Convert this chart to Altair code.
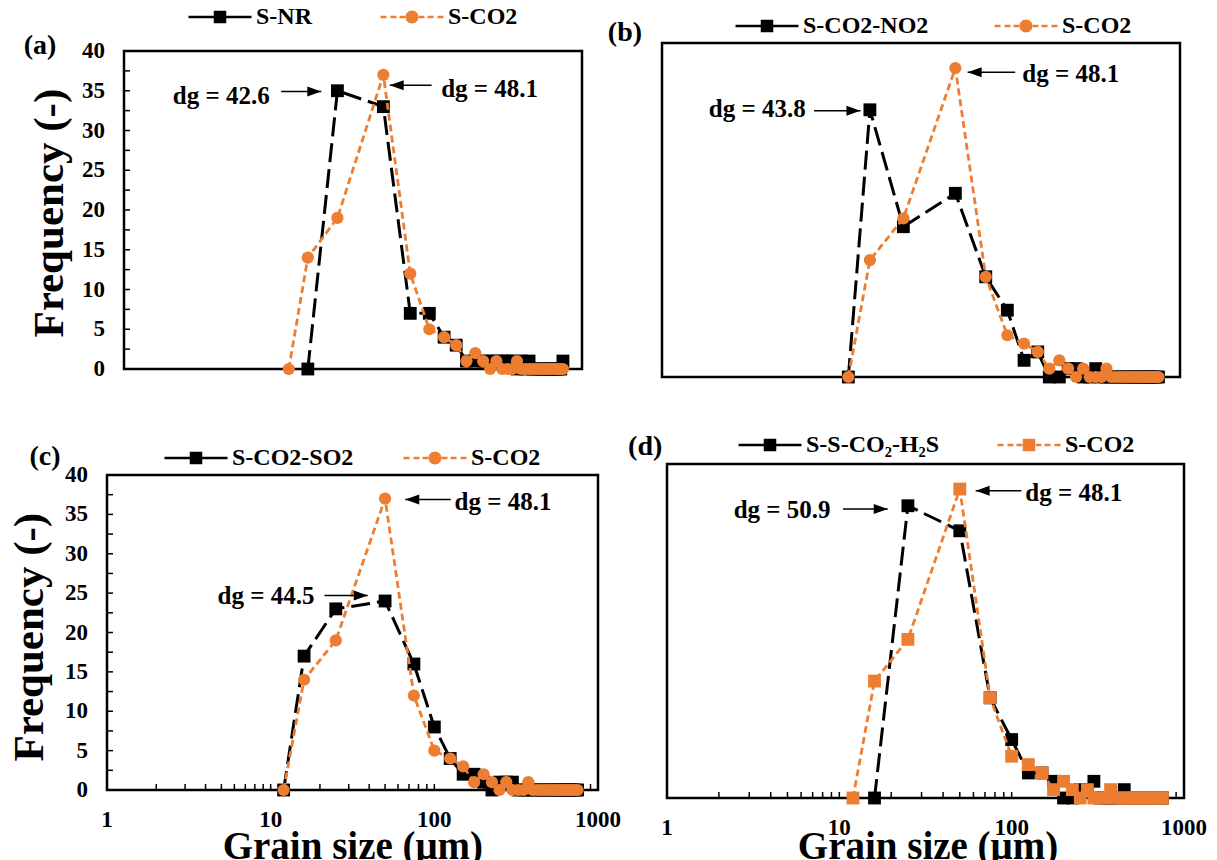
import altair as alt
import pandas as pd

FONT = "Liberation Serif"
BLACK = "#000000"
ORANGE = "#ED7D31"

# ---------------- data ----------------
grain_size = [12, 16, 25, 50, 75, 100, 125, 150, 175, 200, 225, 250, 275, 300,
              325, 350, 375, 400, 425, 450, 475, 500, 525, 550, 575, 600, 625,
              650, 675, 700, 725, 750]
s_co2 = [0, 14, 19, 37, 12, 5, 4, 3, 1, 2, 1, 0, 1, 0, 0, 0, 1,
         0, 0, 0, 0, 0, 0, 0, 0, 0, 0, 0, 0, 0, 0, 0]
s_nr = [None, 0, 35, 33, 7, 7, 4, 3, 1, 1, 1, 1, 1, 1, 1, 1, 0,
        1, 0, 1, 0, 0, 0, 0, 0, 0, 0, 0, 0, 0, 0, 1]
s_co2_no2 = [0, 32, 18, 22, 12, 8, 2, 3, 0, 0, 1, 1, 0, 0, 1, 0, 0,
             0, 0, 0, 0, 0, 0, 0, 0, 0, 0, 0, 0, 0, 0, 0]
s_co2_so2 = [0, 17, 23, 24, 16, 8, 4, 2, 2, 1, 0, 1, 1, 1, 0, 0, 0,
             0, 0, 0, 0, 0, 0, 0, 0, 0, 0, 0, 0, 0, 0, 0]
s_co2_h2s = [None, 0, 35, 32, 12, 7, 3, 3, 2, 0, 0, 1, 1, 2, 0, 0, 0,
             0, 0, 1, 0, 0, 0, 0, 0, 0, 0, 0, 0, 0, 0, 0]

x_domain = [1, 1000]
y_domain = [0, 40]
y_label_values = [0, 5, 10, 15, 20, 25, 30, 35, 40]
y_minor_ticks = [2.5, 5, 7.5, 10, 12.5, 15, 17.5, 20, 22.5, 25, 27.5, 30, 32.5, 35, 37.5]
x_label_values = [1, 10, 100, 1000]
x_minor_ticks = [2, 3, 4, 5, 6, 7, 8, 9, 10, 20, 30, 40, 50, 60, 70, 80, 90,
                 100, 200, 300, 400, 500, 600, 700, 800, 900]

panel_letters = ["(a)", "(b)", "(c)", "(d)"]
main_names = ["S-NR", "S-CO2-NO2", "S-CO2-SO2", "S-S-CO\u2082-H\u2082S"]
ref_name = "S-CO2"
main_series = [s_nr, s_co2_no2, s_co2_so2, s_co2_h2s]
y_title = "Frequency (-)"
x_title = "Grain size (\u03bcm)"

# annotations (data coordinates)
ann_text = [["dg = 42.6", "dg = 48.1"], ["dg = 43.8", "dg = 48.1"],
            ["dg = 44.5", "dg = 48.1"], ["dg = 50.9", "dg = 48.1"]]
ann_text_x = [[9.0, 119.5], [6.8, 122], [18.5, 133], [8.9, 120]]
ann_text_y = [[34.3, 35.2], [32.1, 36.3], [24.6, 36.6], [34.5, 36.5]]
ann_tail_x = [[10.7, 103.5], [7.6, 111], [21.3, 126], [10.5, 114]]
ann_tip_x = [[19.6, 55], [14.1, 58.9], [39.2, 66.4], [19.1, 61.8]]
ann_arrow_y = [[34.9, 35.7], [31.9, 36.5], [24.7, 36.9], [34.6, 36.8]]
letter_x = [0.282, 0.61, 0.418, 0.747]
letter_y = [40.6, 41.2, 42.3, 42.0]
ytitle_x = [0.327, None, 0.339, None]
ytitle_y = [19.6, None, 19.4, None]
xtitle_x = [None, None, 31.8, 32.7]
xtitle_y = [None, None, -8.7, -7.3]

# ---------------- layout / style ----------------
frames = [(124, 582, 51, 369), (662, 1180, 43, 377), (107, 598, 475, 790), (667, 1184, 464, 798)]
has_y_labels = [True, False, True, False]
has_x_labels = [False, False, True, True]
has_y_ticks = [True, False, True, False]
has_x_ticks = [False, False, True, True]
ref_marker = ["circle", "circle", "circle", "square"]
legend_pos = [(181, 5), (728, 14), (157, 446), (731, 433)]
legend_colpad = [60, 58, 42, 50]
CANVAS_W, CANVAS_H = 1217, 860

GLYPH_SOLID_SQUARE = "M-6.3,-0.25H6.3V0.25H-6.3Z M-1.25,-1.25H1.25V1.25H-1.25Z"
DASHES = ("M-6.3,-0.25H-5.1V0.25H-6.3Z M-4.3,-0.25H-3.1V0.25H-4.3Z "
          "M-2.5,-0.25H-1.35V0.25H-2.5Z M1.35,-0.25H2.5V0.25H1.35Z "
          "M3.1,-0.25H4.3V0.25H3.1Z M5.1,-0.25H6.3V0.25H5.1Z ")
GLYPH_DASH_CIRCLE = DASHES + "M1.3,0A1.3,1.3 0 1,1 -1.3,0A1.3,1.3 0 1,1 1.3,0Z"
GLYPH_DASH_SQUARE = DASHES + "M-1.25,-1.25H1.25V1.25H-1.25Z"
ARROW_RIGHT = "M0,0L-1.4,-0.5L-1.4,0.5Z"
ARROW_LEFT = "M0,0L1.4,-0.5L1.4,0.5Z"

TXT = dict(font=FONT, fontWeight="bold", color=BLACK)


def series_df(values):
    df = pd.DataFrame({"size": grain_size, "freq": values})
    return df.dropna()


def build_panel(i):
    L, R, T, B = frames[i]
    xs = alt.Scale(type="log", domain=x_domain, range=[L, R], nice=False)
    ys = alt.Scale(domain=y_domain, range=[B, T], nice=False, zero=False)

    def X(f):
        return alt.X(f, scale=xs, axis=None)

    def Y(f):
        return alt.Y(f, scale=ys, axis=None)

    layers = []

    # plot frame
    frame_df = pd.DataFrame({"x0": [x_domain[0]], "x1": [x_domain[1]],
                             "y0": [y_domain[0]], "y1": [y_domain[1]]})
    layers.append(alt.Chart(frame_df).mark_rect(fillOpacity=0, stroke=BLACK, strokeWidth=2.5).encode(
        x=X("x0:Q"), x2=alt.X2("x1"), y=Y("y0:Q"), y2=alt.Y2("y1")))

    # inward ticks
    if has_y_ticks[i]:
        yt = pd.DataFrame({"v": y_minor_ticks, "x0": x_domain[0]})
        layers.append(alt.Chart(yt).mark_rule(color=BLACK, strokeWidth=1.5, x2Offset=6).encode(
            x=X("x0:Q"), x2=alt.X2("x0"), y=Y("v:Q")))
    if has_x_ticks[i]:
        xt = pd.DataFrame({"v": x_minor_ticks, "y0": y_domain[0]})
        layers.append(alt.Chart(xt).mark_rule(color=BLACK, strokeWidth=1.5, y2Offset=-6).encode(
            x=X("v:Q"), y=Y("y0:Q"), y2=alt.Y2("y0")))

    # tick labels and axis titles
    if has_y_labels[i]:
        yl = pd.DataFrame({"v": y_label_values, "x0": x_domain[0]})
        layers.append(alt.Chart(yl).mark_text(align="right", baseline="middle", dx=-19, fontSize=23, **TXT).encode(
            x=X("x0:Q"), y=Y("v:Q"), text=alt.Text("v:Q", format="d")))
        yt_df = pd.DataFrame({"t": [y_title], "tx": [ytitle_x[i]], "ty": [ytitle_y[i]]})
        layers.append(alt.Chart(yt_df).mark_text(align="center", baseline="middle", angle=270, fontSize=43, **TXT).encode(
            x=X("tx:Q"), y=Y("ty:Q"), text="t:N"))
    if has_x_labels[i]:
        xl = pd.DataFrame({"v": x_label_values, "y0": y_domain[0]})
        layers.append(alt.Chart(xl).mark_text(align="center", baseline="top", dy=19, fontSize=23, **TXT).encode(
            x=X("v:Q"), y=Y("y0:Q"), text=alt.Text("v:Q", format="d")))
        xt_df = pd.DataFrame({"t": [x_title], "tx": [xtitle_x[i]], "ty": [xtitle_y[i]]})
        layers.append(alt.Chart(xt_df).mark_text(align="center", baseline="alphabetic", fontSize=39, **TXT).encode(
            x=X("tx:Q"), y=Y("ty:Q"), text="t:N"))

    # data series
    enc = dict(x=X("size:Q"), y=Y("freq:Q"))
    main_df = series_df(main_series[i])
    ref_df = series_df(s_co2)
    layers.append(alt.Chart(main_df).mark_line(color=BLACK, strokeWidth=3, strokeDash=[19, 7]).encode(**enc))
    layers.append(alt.Chart(main_df).mark_square(color=BLACK, size=165, opacity=1).encode(**enc))
    layers.append(alt.Chart(ref_df).mark_line(color=ORANGE, strokeWidth=2.8, strokeDash=[7, 4]).encode(**enc))
    if ref_marker[i] == "circle":
        layers.append(alt.Chart(ref_df).mark_circle(color=ORANGE, size=150, opacity=1).encode(**enc))
    else:
        layers.append(alt.Chart(ref_df).mark_square(color=ORANGE, size=165, opacity=1).encode(**enc))

    # annotations
    for k in range(2):
        a_df = pd.DataFrame({"label": [ann_text[i][k]], "tx": [ann_text_x[i][k]], "ty": [ann_text_y[i][k]],
                             "x1": [ann_tail_x[i][k]], "x2": [ann_tip_x[i][k]], "ay": [ann_arrow_y[i][k]]})
        pointing_right = ann_tip_x[i][k] > ann_tail_x[i][k]
        layers.append(alt.Chart(a_df).mark_text(align="right" if pointing_right else "left", baseline="middle",
                                                fontSize=25, **TXT).encode(
            x=X("tx:Q"), y=Y("ty:Q"), text="label:N"))
        layers.append(alt.Chart(a_df).mark_rule(color=BLACK, strokeWidth=1.5).encode(
            x=X("x1:Q"), x2=alt.X2("x2"), y=Y("ay:Q")))
        layers.append(alt.Chart(a_df).mark_point(shape=ARROW_RIGHT if pointing_right else ARROW_LEFT,
                                                 filled=True, size=400, color=BLACK, opacity=1).encode(
            x=X("x2:Q"), y=Y("ay:Q")))

    # panel letter
    l_df = pd.DataFrame({"label": [panel_letters[i]], "lx": [letter_x[i]], "ly": [letter_y[i]]})
    layers.append(alt.Chart(l_df).mark_text(align="center", baseline="middle", fontSize=28, **TXT).encode(
        x=X("lx:Q"), y=Y("ly:Q"), text="label:N"))

    # legend (legend-only layer)
    names = [main_names[i], ref_name]
    ref_glyph = GLYPH_DASH_CIRCLE if ref_marker[i] == "circle" else GLYPH_DASH_SQUARE
    lx, ly = legend_pos[i]
    leg = alt.Legend(orient="none", legendX=lx, legendY=ly, direction="horizontal", columns=2,
                     title=None, symbolSize=100, symbolStrokeWidth=0, symbolOpacity=1,
                     symbolOffset=27, labelOffset=24, labelFont=FONT, labelFontSize=24,
                     labelFontWeight="bold", labelColor=BLACK, columnPadding=legend_colpad[i],
                     padding=0, labelLimit=400)
    leg_df = pd.DataFrame({"series": names})
    layers.append(alt.Chart(leg_df).mark_point(filled=True, opacity=0, size=100).encode(
        color=alt.Color("series:N", scale=alt.Scale(domain=names, range=[BLACK, ORANGE]), legend=leg),
        shape=alt.Shape("series:N", scale=alt.Scale(domain=names, range=[GLYPH_SOLID_SQUARE, ref_glyph]),
                        legend=leg)))

    return alt.layer(*layers)


panels = [build_panel(i) for i in range(4)]

chart = alt.layer(*panels).resolve_scale(
    x="independent", y="independent", color="independent", shape="independent"
).resolve_legend(
    color="independent", shape="independent"
).properties(
    width=CANVAS_W, height=CANVAS_H, padding=0, background="white",
    autosize=alt.AutoSizeParams(type="none")
).configure_view(strokeWidth=0)

chart.save("out.html", embed_options={"renderer": "svg", "actions": False})
